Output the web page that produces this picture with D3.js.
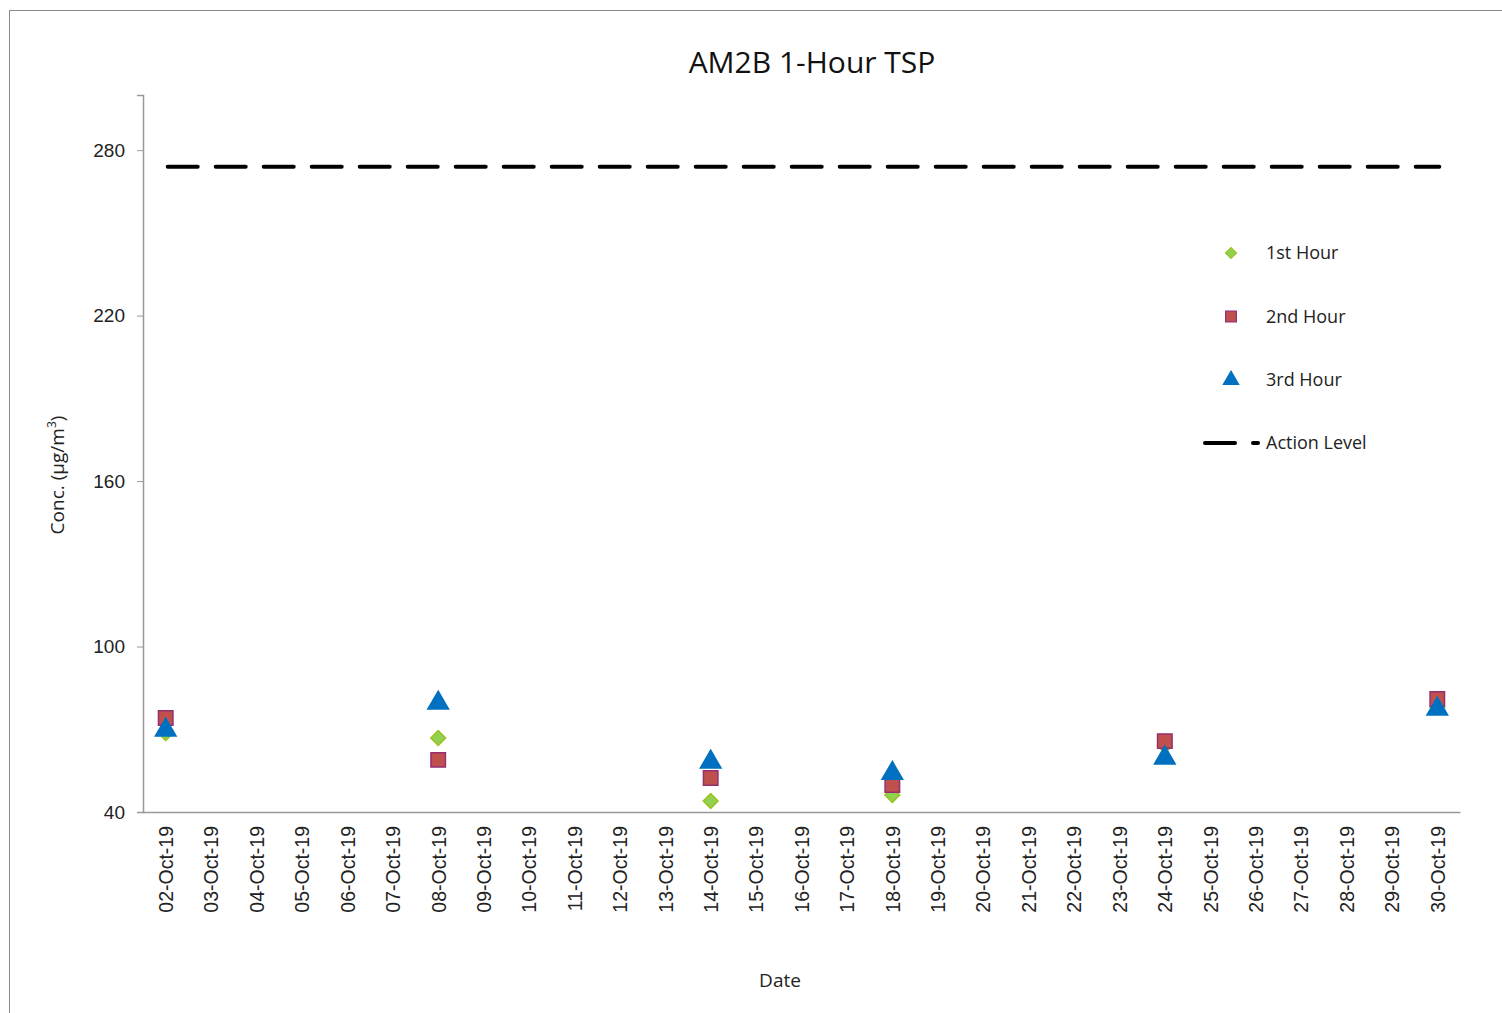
<!DOCTYPE html>
<html>
<head>
<meta charset="utf-8">
<script src="https://cdn.jsdelivr.net/npm/d3@7"></script>
<style>
  body { margin: 0; background: #fff; }
  svg { font-family: "Open Sans", "Noto Sans", sans-serif; }
</style>
</head>
<body>
<div id="chart"></div>
<script>
// dates shown on the x axis
const dates = ["02-Oct-19","03-Oct-19","04-Oct-19","05-Oct-19","06-Oct-19","07-Oct-19","08-Oct-19",
  "09-Oct-19","10-Oct-19","11-Oct-19","12-Oct-19","13-Oct-19","14-Oct-19","15-Oct-19","16-Oct-19",
  "17-Oct-19","18-Oct-19","19-Oct-19","20-Oct-19","21-Oct-19","22-Oct-19","23-Oct-19","24-Oct-19",
  "25-Oct-19","26-Oct-19","27-Oct-19","28-Oct-19","29-Oct-19","30-Oct-19"];

// measurement days
const sampleDates = ["02-Oct-19","08-Oct-19","14-Oct-19","18-Oct-19","24-Oct-19","30-Oct-19"];
const hour1 = [68.6, 66.8, 44.0, 46.2, 64.0, 78.0];
const hour2 = [74.1, 58.9, 52.3, 49.8, 65.7, 81.0];
const hour3 = [69.7, 79.5, 58.1, 54.0, 59.6, 77.3];
const actionLevel = 274;

const yTicks = [40, 100, 160, 220, 280];

const width = 1502, height = 1013;
const svg = d3.select("#chart").append("svg")
    .attr("width", width)
    .attr("height", height);

// outer frame
svg.append("rect")
    .attr("x", 9.5).attr("y", 10.5)
    .attr("width", width).attr("height", height)
    .attr("fill", "none").attr("stroke", "#888").attr("stroke-width", 1);

const plotLeft = 143, plotRight = 1460, plotTop = 95, plotBottom = 812;

const x = d3.scalePoint().domain(dates).range([plotLeft, plotRight]).padding(0.5);
const y = d3.scaleLinear().domain([40, 300]).range([plotBottom, plotTop]);

// y axis
const yAxis = svg.append("g")
    .attr("transform", `translate(${plotLeft},0)`)
    .call(d3.axisLeft(y).tickValues(yTicks).tickSize(6).tickPadding(12));
yAxis.select(".domain").attr("stroke", "#999").attr("stroke-width", 1.5);
yAxis.selectAll(".tick line").attr("stroke", "#999");
yAxis.selectAll("text").attr("font-size", 19).attr("fill", "#222");

// x axis
const xAxis = svg.append("g")
    .attr("transform", `translate(0,${plotBottom})`)
    .call(d3.axisBottom(x).tickSize(0).tickSizeOuter(0).tickPadding(0));
xAxis.select(".domain").attr("stroke", "#999").attr("stroke-width", 1.5);
xAxis.selectAll("text")
    .attr("font-size", 19.5).attr("fill", "#222")
    .attr("text-anchor", "end")
    .attr("y", 0)
    .attr("dy", "0.35em")
    .attr("transform", "translate(0,14) rotate(-90)");

// title and axis labels
svg.append("text")
    .attr("x", 812).attr("y", 73)
    .attr("text-anchor", "middle")
    .attr("font-size", 30).attr("fill", "#111")
    .text("AM2B 1-Hour TSP");

svg.append("text")
    .attr("x", 780).attr("y", 987)
    .attr("text-anchor", "middle")
    .attr("font-size", 19).attr("fill", "#222")
    .text("Date");

const yl = svg.append("text")
    .attr("transform", "translate(64,475) rotate(-90)")
    .attr("text-anchor", "middle")
    .attr("font-size", 19).attr("fill", "#222");
yl.append("tspan").text("Conc. (μg/m");
yl.append("tspan").attr("font-size", 12).attr("dy", -8).text("3");
yl.append("tspan").attr("dy", 8).text(")");

// action level
svg.append("line")
    .attr("x1", x(dates[0]) + 2).attr("x2", x(dates[dates.length - 1]) + 2)
    .attr("y1", y(actionLevel)).attr("y2", y(actionLevel))
    .attr("stroke", "#000").attr("stroke-width", 4)
    .attr("stroke-linecap", "round")
    .attr("stroke-dasharray", "30,18");

// diamond = square turned 45 degrees
const series = [
  { name: "1st Hour", values: hour1, type: d3.symbolSquare, rot: 45, size: 110, fill: "#92D050", stroke: "#9BC21E" },
  { name: "2nd Hour", values: hour2, type: d3.symbolSquare, rot: 0, size: 210, fill: "#C0504D", stroke: "#953070" },
  { name: "3rd Hour", values: hour3, type: d3.symbolTriangle, rot: 0, size: 185, fill: "#0070C0", stroke: "#0070C0" }
];

series.forEach(s => {
  svg.append("g").selectAll("path")
      .data(s.values)
      .join("path")
      .attr("transform", (d, i) => `translate(${x(sampleDates[i])},${y(d)}) rotate(${s.rot})`)
      .attr("d", d3.symbol().type(s.type).size(s.size))
      .attr("fill", s.fill)
      .attr("stroke", s.stroke)
      .attr("stroke-width", 1.5);
});

// legend
const legend = svg.append("g");
series.forEach((s, i) => {
  const ly = 253 + i * 63.5;
  legend.append("path")
      .attr("transform", `translate(1231,${ly}) rotate(${s.rot})`)
      .attr("d", d3.symbol().type(s.type).size(s.size * 0.55))
      .attr("fill", s.fill).attr("stroke", s.stroke).attr("stroke-width", 1.2);
  legend.append("text")
      .attr("x", 1266).attr("y", ly).attr("dy", "0.35em")
      .attr("font-size", 18).attr("fill", "#222")
      .text(s.name);
});
legend.append("line")
    .attr("x1", 1205).attr("x2", 1258)
    .attr("y1", 443).attr("y2", 443)
    .attr("stroke", "#000").attr("stroke-width", 4)
    .attr("stroke-linecap", "round")
    .attr("stroke-dasharray", "30,18");
legend.append("text")
    .attr("x", 1266).attr("y", 443).attr("dy", "0.35em")
    .attr("font-size", 18).attr("fill", "#222")
    .text("Action Level");
</script>
</body>
</html>
